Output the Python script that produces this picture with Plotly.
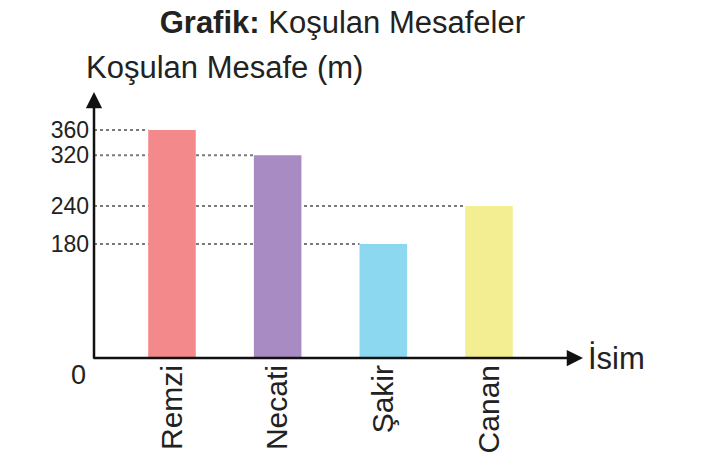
import plotly.graph_objects as go

names = ["Remzi", "Necati", "Şakir", "Canan"]
distances = [360, 320, 180, 240]
colors = ["#F3898A", "#A98BC3", "#8DD8F1", "#F3EE91"]
ytick_vals = [180, 240, 320, 360]
title_bold = "Grafik:"
title_rest = "Koşulan Mesafeler"
y_title = "Koşulan Mesafe (m)"
x_title = "İsim"

FONT = "Liberation Sans"
BAR_W = 0.45
X_MIN, X_MAX = -0.738, 3.89
Y_MAX = 420

xpos = list(range(len(names)))

fig = go.Figure()
fig.add_trace(go.Bar(
    x=xpos, y=distances, width=BAR_W,
    marker=dict(color=colors, line=dict(width=0)),
    hoverinfo="x+y",
))

# dotted guide lines from the y axis to each bar
for i, v in enumerate(distances):
    fig.add_shape(type="line", xref="x", yref="y",
                  x0=X_MIN, x1=xpos[i] - BAR_W / 2, y0=v, y1=v,
                  line=dict(color="#7a7a7a", width=2, dash="dot"),
                  layer="below")

# axes with arrows
fig.add_annotation(xref="paper", yref="paper", x=0, y=1, ax=0, ay=268,
                   axref="pixel", ayref="pixel", text="", showarrow=True,
                   arrowhead=2, arrowsize=1.3, arrowwidth=2.5, arrowcolor="#111",
                   standoff=0)
fig.add_annotation(xref="paper", yref="paper", x=1, y=0, ax=-491, ay=0,
                   text="", showarrow=True,
                   arrowhead=2, arrowsize=1.3, arrowwidth=2.5, arrowcolor="#111",
                   standoff=0)

fig.add_annotation(xref="paper", yref="y", x=0, y=0, xanchor="right", yanchor="top",
                   xshift=-6, yshift=0, text="0", showarrow=False,
                   font=dict(family=FONT, size=27, color="#222"))
fig.add_annotation(xref="paper", yref="paper", x=0, y=1, xanchor="left", yanchor="middle",
                   xshift=-10, yshift=25, text=y_title, showarrow=False,
                   font=dict(family=FONT, size=31, color="#222"))
fig.add_annotation(xref="paper", yref="paper", x=1, y=0, xanchor="left", yanchor="middle",
                   xshift=3, yshift=0, text=x_title, showarrow=False,
                   font=dict(family=FONT, size=31, color="#222"))

fig.update_layout(
    width=703, height=468,
    margin=dict(l=94, r=120, t=92, b=110),
    paper_bgcolor="white", plot_bgcolor="white",
    showlegend=False,
    title=dict(text=f"<b>{title_bold}</b> {title_rest}", x=0.487, xanchor="center",
               y=1 - 22 / 468, yanchor="middle",
               font=dict(family=FONT, size=31, color="#222")),
    xaxis=dict(range=[X_MIN, X_MAX], tickvals=xpos, ticktext=names, tickangle=-90,
               showgrid=False, zeroline=False, showline=False, ticks="",
               tickfont=dict(family=FONT, size=30, color="#222")),
    yaxis=dict(range=[0, Y_MAX], tickvals=ytick_vals, showgrid=False, zeroline=False,
               showline=False, ticks="", ticklabelstandoff=4,
               tickfont=dict(family=FONT, size=23, color="#222")),
)

fig.write_html("out.html")
